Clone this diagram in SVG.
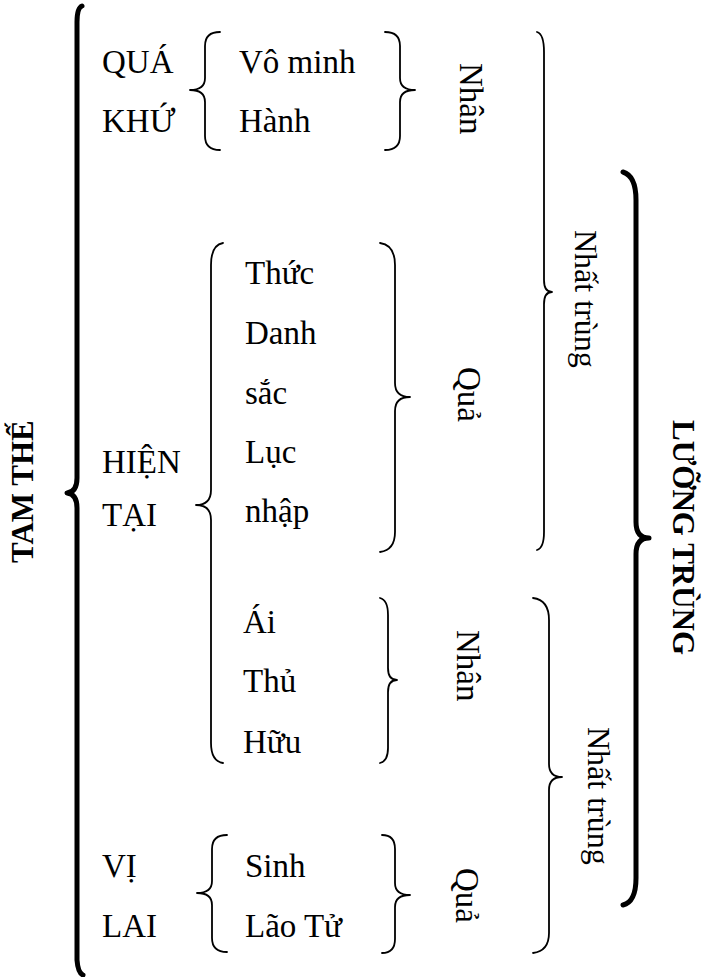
<svg xmlns="http://www.w3.org/2000/svg" width="705" height="977" viewBox="0 0 705 977">
<style>
text{font-family:"Liberation Serif","Times New Roman",serif;font-size:33px;fill:#000}
.b{font-weight:bold;font-size:31px}
.nt{font-size:32px}
.br{fill:none;stroke:#000;stroke-width:1.8;stroke-linecap:round;stroke-linejoin:round}
.bk{fill:none;stroke:#000;stroke-width:5;stroke-linecap:round;stroke-linejoin:round}
</style>
<rect width="705" height="977" fill="#fff"/>
<g id="connectors">
<path class="bk" d="M82,6 Q77,8 77,22 V478 Q77,492 67,493 Q77,494 77,508 V960 Q78,973 83,975"/>
<path class="br" d="M220,32 Q205,32 205,46 V78 Q205,90 190,90 Q205,90 205,102 V136 Q205,150 220,150"/>
<path class="br" d="M385,32 Q400,32 400,46 V78 Q400,90 415,90 Q400,90 400,102 V136 Q400,150 385,150"/>
<path class="br" d="M537,32 Q544,34 544,52 V280 Q544,292 552,292 Q544,292 544,304 V532 Q544,548 537,550"/>
<path class="bk" d="M623,172 Q636,176 636,200 V522 Q636,538 649,538 Q636,538 636,554 V878 Q636,902 623,905"/>
<path class="br" d="M223,243 Q211,245 211,265 V490 Q211,505 196,505 Q211,505 211,520 V743 Q211,761 223,763"/>
<path class="br" d="M380,243 Q395,245 395,265 V383 Q395,397 410,397 Q395,397 395,411 V532 Q395,550 380,552"/>
<path class="br" d="M380,598 Q388,600 388,615 V668 Q388,680 397,680 Q388,680 388,692 V748 Q388,761 380,763"/>
<path class="br" d="M533,598 Q549,600 549,620 V764 Q549,777 562,777 Q549,777 549,790 V933 Q549,951 533,953"/>
<path class="br" d="M227,835 Q212,835 212,849 V881 Q212,893 197,893 Q212,893 212,905 V938 Q212,952 227,952"/>
<path class="br" d="M382,835 Q395,835 395,849 V883 Q395,895 410,895 Q395,895 395,907 V939 Q395,953 382,953"/>
</g>
<g id="tam-the"><text class="b" transform="translate(33,563) rotate(-90)">TAM THẾ</text></g>
<g id="qua-khu"><text x="102" y="73">QUÁ</text><text x="102" y="132">KHỨ</text></g>
<g id="vo-minh-hanh"><text x="239" y="73">Vô minh</text><text x="239" y="132">Hành</text></g>
<g id="nhan-1"><text transform="translate(460,63) rotate(90)">Nhân</text></g>
<g id="nhat-trung-1"><text class="nt" transform="translate(575,230) rotate(90)">Nhất trùng</text></g>
<g id="luong-trung"><text class="b" transform="translate(673,420) rotate(90)">LƯỠNG TRÙNG</text></g>
<g id="hien-tai"><text x="102" y="473">HIỆN</text><text x="102" y="526">TẠI</text></g>
<g id="thuc-group"><text x="245" y="284">Thức</text><text x="245" y="344">Danh</text><text x="245" y="404">sắc</text><text x="245" y="463">Lục</text><text x="245" y="522">nhập</text></g>
<g id="qua-1"><text transform="translate(458,367) rotate(90)">Quả</text></g>
<g id="ai-group"><text x="243" y="633">Ái</text><text x="243" y="692">Thủ</text><text x="243" y="753">Hữu</text></g>
<g id="nhan-2"><text transform="translate(457,630) rotate(90)">Nhân</text></g>
<g id="nhat-trung-2"><text class="nt" transform="translate(588,727) rotate(90)">Nhất trùng</text></g>
<g id="vi-lai"><text x="102" y="877">VỊ</text><text x="102" y="937">LAI</text></g>
<g id="sinh-group"><text x="245" y="877">Sinh</text><text x="245" y="937">Lão Tử</text></g>
<g id="qua-2"><text transform="translate(456,868) rotate(90)">Quả</text></g>
</svg>
